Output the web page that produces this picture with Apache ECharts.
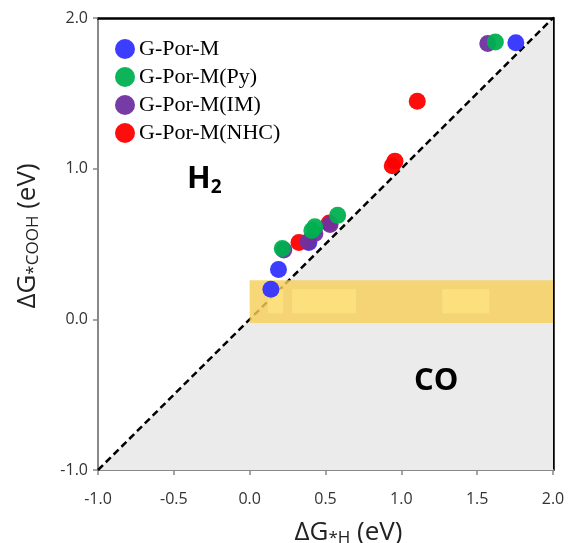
<!DOCTYPE html>
<html><head><meta charset="utf-8">
<script src="https://cdn.jsdelivr.net/npm/echarts@6/dist/echarts.min.js"></script>
<style>html,body{margin:0;padding:0;background:#fff}#c{width:569px;height:543px}</style>
</head><body><div id="c"></div>
<script>
var xTicks = [-1.0, -0.5, 0.0, 0.5, 1.0, 1.5, 2.0];
var yTicks = [-1.0, 0.0, 1.0, 2.0];
var seriesNames = ['G-Por-M', 'G-Por-M(Py)', 'G-Por-M(IM)', 'G-Por-M(NHC)'];
var porM = [[0.14, 0.20], [0.19, 0.33], [0.39, 0.51], [1.755, 1.835]];
var porMPy = [[0.215, 0.47], [0.41, 0.59], [0.43, 0.615], [0.58, 0.69], [1.62, 1.84]];
var porMIM = [[0.225, 0.46], [0.385, 0.515], [0.43, 0.57], [0.53, 0.63], [1.57, 1.83]];
var porMNHC = [[0.325, 0.51], [0.525, 0.64], [1.105, 1.447], [0.958, 1.05], [0.94, 1.02]];
var colors = {'G-Por-M':'#3333ff','G-Por-M(Py)':'#00b050','G-Por-M(IM)':'#7030a0','G-Por-M(NHC)':'#ff0000'};
var triangle = [[-1, -1], [2, -1], [2, 2]];
var diagonal = [[-1, -1], [2, 2]];
var band = [[0, -0.025], [2, 0.26]];
var bandLights = [[[0.12, 0.04], [0.22, 0.2]], [[0.28, 0.04], [0.7, 0.2]], [[1.27, 0.04], [1.58, 0.2]]];

var chart = echarts.init(document.getElementById('c'));
function scat(name, data) {
  return {name: name, type: 'scatter', data: data, symbol: 'circle', symbolSize: 17,
    itemStyle: {color: colors[name], opacity: 0.95}, z: 5};
}
var ff = '"Open Sans", "Noto Sans", sans-serif';
var nameRich = {a: {fontSize: 26, fontFamily: ff, color: '#222'}, s: {fontSize: 17, fontFamily: ff, color: '#222', verticalAlign: 'bottom', padding: [12,0,0,0]}};
chart.setOption({
  animation: false,
  grid: {left: 98, right: 16, top: 18, bottom: 73, containLabel: false, outerBoundsMode: 'none'},
  legend: {
    data: seriesNames, orient: 'vertical', left: 110, top: 33, itemGap: 6,
    itemWidth: 22, itemHeight: 20, icon: 'circle',
    textStyle: {fontFamily: '"Liberation Serif", "Times New Roman", serif', fontSize: 22, color: '#000', padding: [0,0,0,-2]}
  },
  xAxis: [{
    type: 'value', min: -1, max: 2, interval: 0.5,
    axisLine: {onZero: false, lineStyle: {color: '#888', width: 2}},
    axisTick: {show: true, length: 5, lineStyle: {color: '#888', width: 1.5}},
    splitLine: {show: false},
    axisLabel: {color: '#333', fontSize: 16, fontFamily: ff, margin: 21, formatter: function(v){return v.toFixed(1);}},
    name: '{a|ΔG}{s|*H}{a| (eV)}', nameLocation: 'middle', nameGap: 48,
    nameTextStyle: {padding: [0,0,0,46], rich: nameRich}
  }, {
    type: 'value', min: -1, max: 2, position: 'top',
    axisLine: {show: true, onZero: false, lineStyle: {color: '#000', width: 2.5}},
    axisTick: {show: false}, axisLabel: {show: false}, splitLine: {show: false}
  }],
  yAxis: [{
    type: 'value', min: -1, max: 2, interval: 1,
    axisLine: {show: true, onZero: false, lineStyle: {color: '#888', width: 2}},
    axisTick: {show: true, length: 5, lineStyle: {color: '#888', width: 1.5}},
    splitLine: {show: false},
    axisLabel: {color: '#333', fontSize: 16, fontFamily: ff, margin: 10, formatter: function(v){return v.toFixed(1);}},
    name: '{a|ΔG}{s|*COOH}{a| (eV)}', nameLocation: 'middle', nameGap: 56,
    nameTextStyle: {padding: [0,0,0,16], rich: nameRich}
  }, {
    type: 'value', min: -1, max: 2, position: 'right',
    axisLine: {show: true, onZero: false, lineStyle: {color: '#000', width: 2.5}},
    axisTick: {show: false}, axisLabel: {show: false}, splitLine: {show: false}
  }],
  series: [
    {type: 'custom', silent: true, z: 1, data: [0],
      renderItem: function(params, api) {
        return {type: 'polygon', shape: {points: triangle.map(function(p){return api.coord(p);})},
          style: {fill: '#ebebeb'}};
      }},
    {type: 'line', data: diagonal, symbol: 'none', silent: true, z: 2,
      lineStyle: {color: '#000', width: 2.5, type: [7, 4]}},
    {type: 'custom', silent: true, z: 3, data: [0],
      renderItem: function(params, api) {
        var children = [];
        var a = api.coord(band[0]), b = api.coord(band[1]);
        children.push({type: 'rect', shape: {x: a[0], y: b[1], width: b[0]-a[0], height: a[1]-b[1]},
          style: {fill: 'rgba(246,206,90,0.82)'}});
        bandLights.forEach(function(r){
          var p = api.coord(r[0]), q = api.coord(r[1]);
          children.push({type: 'rect', shape: {x: p[0], y: q[1], width: q[0]-p[0], height: p[1]-q[1]},
            style: {fill: 'rgba(255,228,130,0.75)'}});
        });
        return {type: 'group', children: children};
      }},
    scat('G-Por-M', porM),
    scat('G-Por-M(NHC)', porMNHC),
    scat('G-Por-M(IM)', porMIM),
    scat('G-Por-M(Py)', porMPy)
  ],
  graphic: [
    {type: 'text', left: 187, top: 164, z: 10, style: {text: '{h|H}{s|2}', rich: {
      h: {fontSize: 31, fontWeight: 'bold', fontFamily: ff, fill: '#000'},
      s: {fontSize: 19, fontWeight: 'bold', fontFamily: ff, fill: '#000', verticalAlign: 'bottom', padding: [16,0,0,0]}}}},
    {type: 'text', left: 414, top: 366, z: 10, style: {text: 'CO', fontSize: 31, fontWeight: 'bold', fontFamily: ff, fill: '#000'}}
  ]
});
</script></body></html>
